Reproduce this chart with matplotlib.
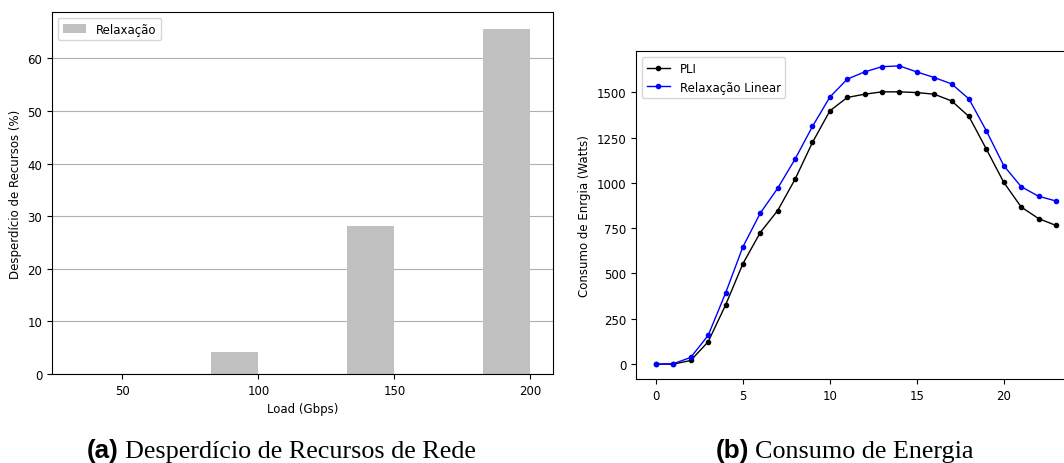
import matplotlib.pyplot as plt
import numpy as np

# dados (a)
cargas = ['50', '100', '150', '200']
desperdicio = [0, 4.1, 28.2, 65.5]

# dados (b)
horas = list(range(24))
pli = [0, 0, 20, 123, 325, 554, 726, 847, 1020, 1223, 1397, 1471,
       1489, 1502, 1502, 1498, 1489, 1452, 1366, 1186, 1003, 867, 803, 765]
relax = [0, 2, 37, 158, 391, 647, 833, 970, 1131, 1311, 1473, 1572,
         1612, 1641, 1645, 1612, 1581, 1546, 1463, 1287, 1095, 979, 926, 900]

fs = 8.5
fig = plt.figure(figsize=(10.64, 4.64), dpi=100)

# grafico (a)
ax1 = fig.add_axes([0.0489, 0.1918, 0.4709, 0.780])
x = np.arange(len(cargas))
largura = 0.35
ax1.bar(x - largura / 2, desperdicio, largura, color='silver', label='Relaxação', zorder=2)
ax1.set_xticks(x)
ax1.set_xticklabels(cargas)
ax1.set_xlabel('Load (Gbps)', fontsize=fs)
ax1.set_ylabel('Desperdício de Recursos (%)', fontsize=fs)
ax1.tick_params(labelsize=fs)
ax1.yaxis.grid(True, zorder=0)
ax1.set_axisbelow(True)
ax1.legend(loc='upper left', fontsize=fs)

# grafico (b)
ax2 = fig.add_axes([0.5977, 0.181, 0.4135, 0.7069])
ax2.plot(horas, pli, marker='.', color='black', linewidth=1, label='PLI')
ax2.plot(horas, relax, marker='.', color='blue', linewidth=1, label='Relaxação Linear')
ax2.set_ylabel('Consumo de Enrgia (Watts)', fontsize=fs)
ax2.tick_params(labelsize=fs)
ax2.legend(loc='upper left', fontsize=fs)

# legendas das figuras
cap_fs = 18.8
yb = 1 - 458 / 464
fig.text(119 / 1064, yb, '(a)', fontsize=cap_fs, fontweight='bold',
         family='Liberation Sans', ha='right', va='baseline')
fig.text(125 / 1064, yb, 'Desperdício de Recursos de Rede', fontsize=cap_fs,
         family='Liberation Serif', ha='left', va='baseline')
fig.text(749 / 1064, yb, '(b)', fontsize=cap_fs, fontweight='bold',
         family='Liberation Sans', ha='right', va='baseline')
fig.text(755 / 1064, yb, 'Consumo de Energia', fontsize=cap_fs,
         family='Liberation Serif', ha='left', va='baseline')

fig.savefig('out.png', dpi=100)
